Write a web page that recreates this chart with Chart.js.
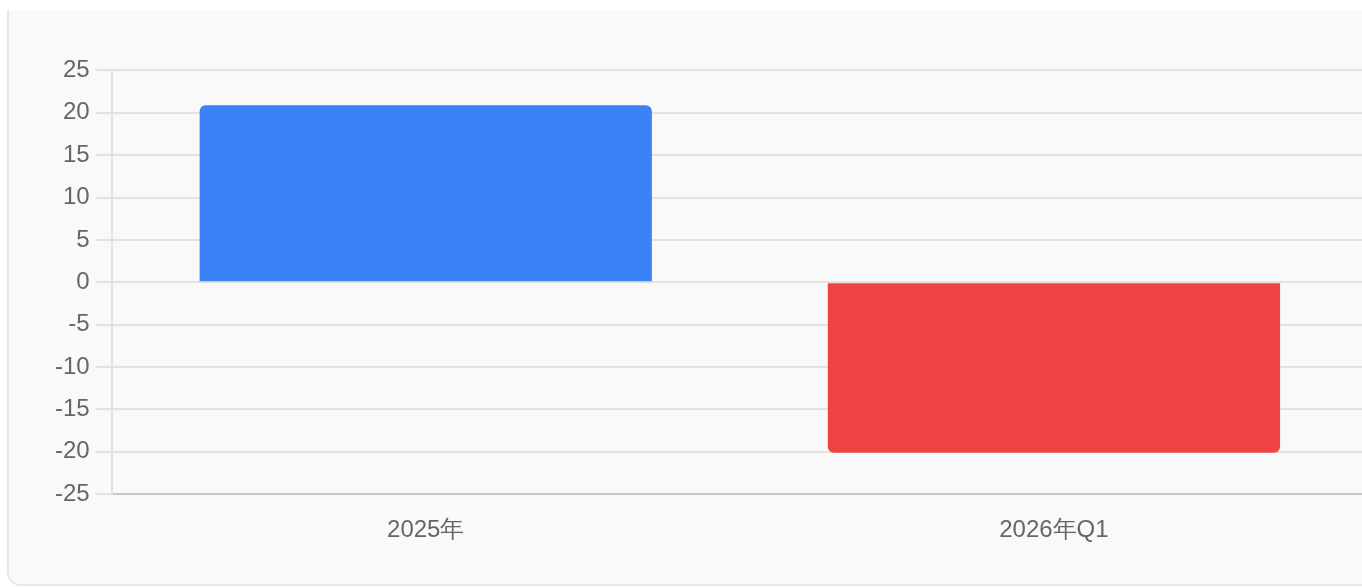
<!DOCTYPE html>
<html>
<head>
<meta charset="utf-8">
<script src="https://cdn.jsdelivr.net/npm/chart.js@4"></script>
<style>
  html, body { margin: 0; padding: 0; background: #fff; overflow: hidden; }
  .card {
    position: absolute; left: 7px; top: 10px;
    width: 1400px; height: 576px;
    background: #f9f9f9;
    border: 2px solid #e6e6ec;
    border-top: none;
    border-radius: 0 0 14px 14px;
    box-sizing: border-box;
  }
  .chart-box {
    position: absolute; left: 40px; top: 40px;
    width: 1319px; height: 517px;
  }
</style>
</head>
<body>
<div class="card">
  <div class="chart-box"><canvas id="chart"></canvas></div>
</div>
<script>
// 資料
const labels = ['2025年', '2026年Q1'];
const values = [20.9, -20.1];
const barColors = ['#3b82f6', '#ef4444'];

const yMin = -25;
const yMax = 25;
const yStep = 5;

const ctx = document.getElementById('chart').getContext('2d');
new Chart(ctx, {
    type: 'bar',
    data: {
        labels: labels,
        datasets: [{
            data: values,
            backgroundColor: barColors,
            borderRadius: 6
        }]
    },
    options: {
        responsive: true,
        maintainAspectRatio: false,
        animation: false,
        plugins: {
            legend: { display: false },
            tooltip: { enabled: false }
        },
        scales: {
            x: {
                grid: { display: false, drawTicks: false },
                border: { color: '#c8c8c8', width: 2 },
                ticks: {
                    color: '#666',
                    padding: 22,
                    font: { size: 24, family: "'Liberation Sans', Arial, sans-serif" }
                }
            },
            y: {
                min: yMin,
                max: yMax,
                grid: { color: '#e2e2e2', lineWidth: 2, tickLength: 16 },
                border: { color: '#e2e2e2', width: 2 },
                ticks: {
                    stepSize: yStep,
                    color: '#666',
                    padding: 6,
                    font: { size: 24, family: "'Liberation Sans', Arial, sans-serif" }
                }
            }
        }
    }
});
</script>
</body>
</html>
